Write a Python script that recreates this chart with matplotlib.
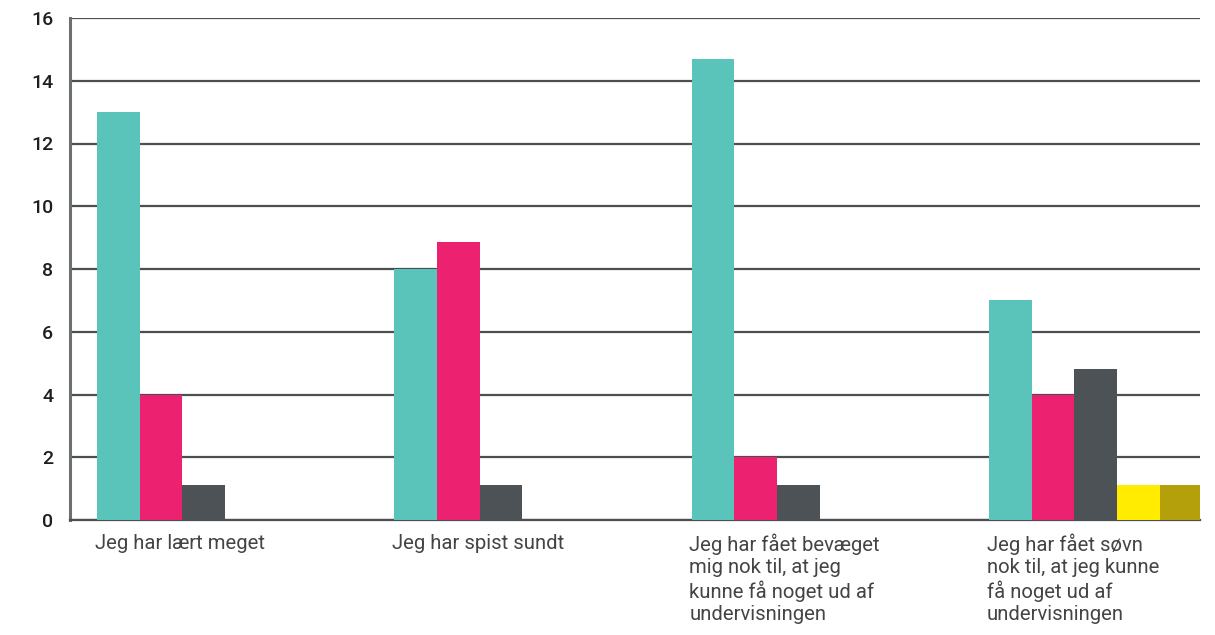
import numpy as np
import matplotlib.pyplot as plt
import matplotlib.transforms as mtransforms

plt.rcParams['font.family'] = ['Roboto', 'DejaVu Sans']

categories = ['Jeg har lært meget',
              'Jeg har spist sundt',
              'Jeg har fået bevæget\nmig nok til, at jeg\nkunne få noget ud af\nundervisningen',
              'Jeg har fået søvn\nnok til, at jeg kunne\nfå noget ud af\nundervisningen']
serie1 = [13, 8, 14.7, 7]
serie2 = [4, 8.85, 2, 4]
serie3 = [1.1, 1.1, 1.1, 4.8]
serie4 = [0, 0, 0, 1.1]
serie5 = [0, 0, 0, 1.1]
farver = ['#5bc4ba', '#ec216f', '#4d5257', '#ffec00', '#b3a00a']

fig = plt.figure(figsize=(12.15, 6.35), dpi=100)
ax = fig.add_axes([70/1215, 1 - 520/635, 1130/1215, 502/635])

w = 0.1435
x = np.arange(len(categories))
for j, s in enumerate([serie1, serie2, serie3, serie4, serie5]):
    ax.bar(x + j*w, s, width=w, align='edge', color=farver[j], zorder=3)

ax.set_xlim(-0.091, 3.71)
ax.set_ylim(0, 16)
ax.set_yticks(range(0, 17, 2))
ax.yaxis.grid(True, color='#4a4f54', linewidth=1.6, zorder=0)
ax.set_xticks([])
ax.tick_params(axis='y', length=0, pad=12, labelsize=14, labelcolor='#1e1e1e')
for lbl in ax.get_yticklabels():
    lbl.set_fontweight('medium')

for sp in ['top', 'right']:
    ax.spines[sp].set_visible(False)
ax.spines['left'].set_color('#6d6f71')
ax.spines['left'].set_linewidth(2.2)
ax.spines['bottom'].set_color('#4a4f54')
ax.spines['bottom'].set_linewidth(1.6)

trans = mtransforms.blended_transform_factory(ax.transData, ax.transAxes)
for i, c in enumerate(categories):
    ax.text(i - 0.008, -0.027, c, transform=trans, ha='left', va='top',
            fontsize=14.6, color='#444444', linespacing=1.2)

fig.savefig('out.png', dpi=100)
